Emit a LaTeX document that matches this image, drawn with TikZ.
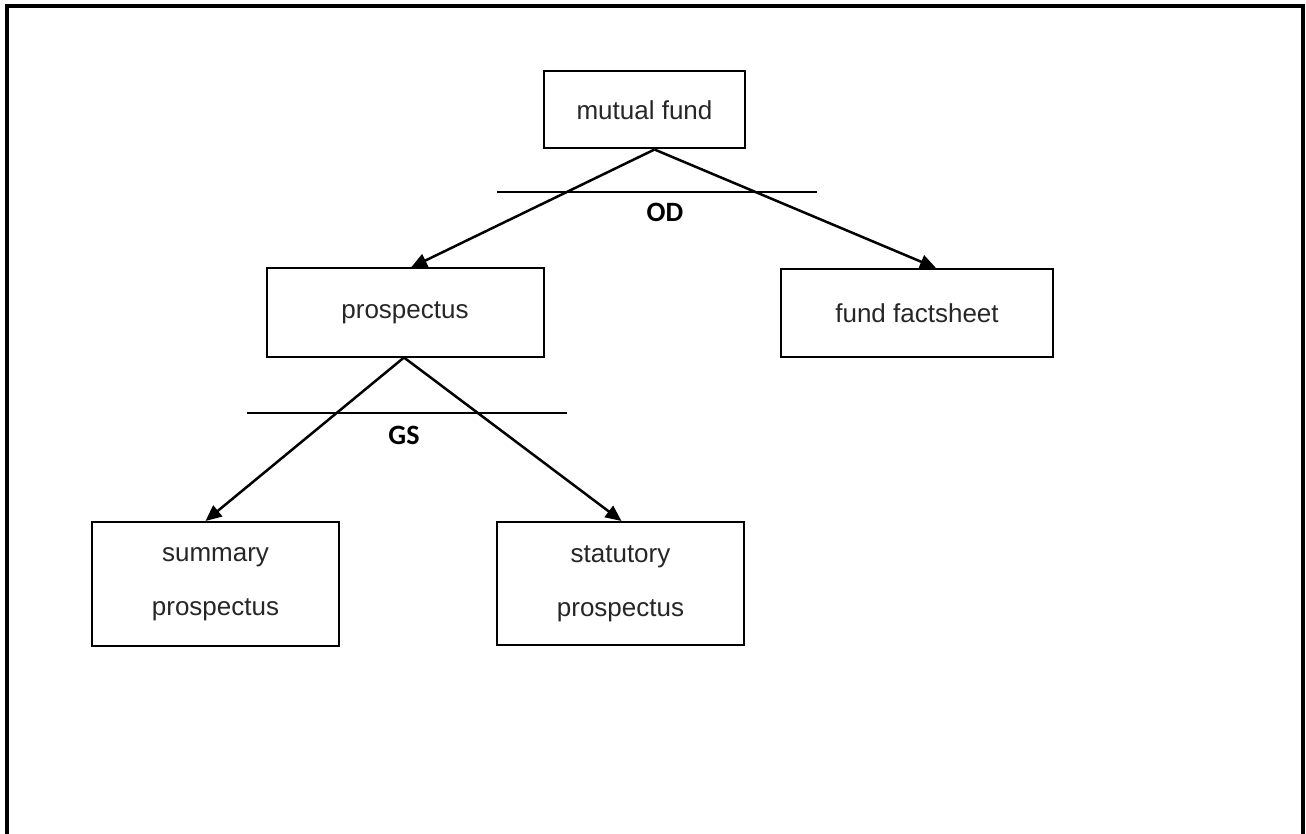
\documentclass[tikz,border=0pt]{standalone}
\usepackage{fontspec}
\setmainfont{Liberation Sans}
\newfontfamily\labelfont{Carlito}
\usetikzlibrary{arrows.meta}
\begin{document}
\begin{tikzpicture}[x=1pt,y=-1pt,
  docbox/.style={draw, line width=2pt, rectangle, inner sep=0pt,
    text=black!85, font=\fontsize{26}{54}\selectfont, align=center},
  link/.style={line width=2.5pt, -{Triangle[length=16pt,width=14pt]}},
  split/.style={line width=1.7pt},
  splitlabel/.style={font=\labelfont\bfseries\fontsize{28}{30}\selectfont}]
  \useasboundingbox (0,0) rectangle (1306,834);
  % open frame: left, top and right edges
  \draw[line width=4pt] (7,834) -- (7,6) -- (1303,6) -- (1303,834);

  % documents
  \node[docbox, minimum width=201pt, minimum height=77pt] (mf) at (644.5,110) {mutual fund};
  \node[docbox, minimum width=277pt, minimum height=88pt] (pros) at (405,312.5) {prospectus};
  \node[docbox, minimum width=272pt, minimum height=88pt] (fact) at (917,313) {fund factsheet};
  \node[docbox, minimum width=247pt, minimum height=124pt] (summ) at (215.5,584) {summary\\prospectus};
  \node[docbox, minimum width=247pt, minimum height=123pt] (stat) at (620.5,583.5) {statutory\\prospectus};

  % generalisation bars
  \coordinate (odL) at (497,192);
  \coordinate (odR) at (817,192);
  \draw[split] (odL) -- (odR);
  \node[splitlabel] (od) at (665,212) {OD};
  \coordinate (gsL) at (247,413);
  \coordinate (gsR) at (567,413);
  \draw[split] (gsL) -- (gsR);
  \node[splitlabel] (gs) at (404,435) {GS};

  % connectors
  \draw[link] ([xshift=10pt]mf.south) -- ([xshift=6pt]pros.north);
  \draw[link] ([xshift=10pt]mf.south) -- ([xshift=19pt]fact.north);
  \draw[link] ([xshift=-1pt]pros.south) -- ([xshift=-10pt]summ.north);
  \draw[link] ([xshift=-1pt]pros.south) -- ([xshift=1pt]stat.north);
\end{tikzpicture}
\end{document}
